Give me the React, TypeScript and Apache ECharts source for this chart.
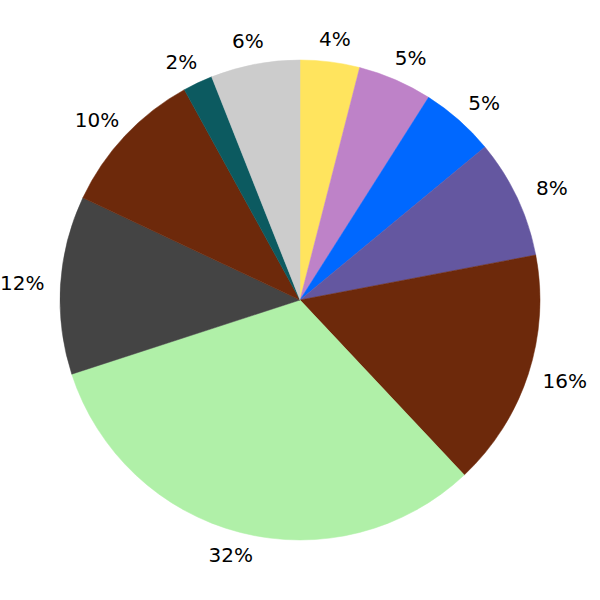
import React, { useEffect, useRef } from "react";
import * as echarts from "echarts";

const categories = ["A", "B", "C", "D", "E", "F", "G", "H", "I", "J"];
const values = [4, 5, 5, 8, 16, 32, 12, 10, 2, 6];
const colors = [
  "#FFE45E",
  "#BE82C8",
  "#0068FF",
  "#6457A0",
  "#6D290B",
  "#B0F0A8",
  "#444444",
  "#6D290B",
  "#0C5A60",
  "#CCCCCC",
];

const CX = 300;
const CY = 300;
const R = 240;

export default function App() {
  const ref = useRef<HTMLDivElement>(null);
  useEffect(() => {
    if (!ref.current) return;
    const chart = echarts.init(ref.current, undefined, { renderer: "svg" });
    const total = values.reduce((a, b) => a + b, 0);
    const cum: number[] = [];
    let acc = 0;
    values.forEach((v) => {
      cum.push(acc + v / 2);
      acc += v;
    });
    chart.setOption({
      animation: false,
      backgroundColor: "#ffffff",
      series: [
        {
          type: "pie",
          center: [CX, CY],
          radius: R,
          startAngle: 90,
          clockwise: true,
          avoidLabelOverlap: false,
          data: categories.map((c, i) => ({
            name: c,
            value: values[i],
            itemStyle: { color: colors[i], borderColor: colors[i], borderWidth: 0.5 },
          })),
          label: {
            show: true,
            position: "outside",
            formatter: (p: any) => `${Math.round((p.value / total) * 100)}%`,
            fontFamily: "DejaVu Sans",
            fontSize: 20,
            color: "#000000",
          },
          labelLine: { show: false },
          labelLayout: (params: any) => {
            const i = params.dataIndex;
            const a = (cum[i] / total) * Math.PI * 2;
            const s = Math.sin(a);
            const c = Math.cos(a);
            return {
              x: CX + R * 1.16 * s,
              y: CY - R * 1.097 * c,
              align: "center",
              verticalAlign: "middle",
            };
          },
          emphasis: { disabled: true },
        },
      ],
    });
    return () => chart.dispose();
  }, []);
  return (
    <div
      ref={ref}
      style={{ position: "fixed", left: 0, top: 0, width: 600, height: 600 }}
    />
  );
}
